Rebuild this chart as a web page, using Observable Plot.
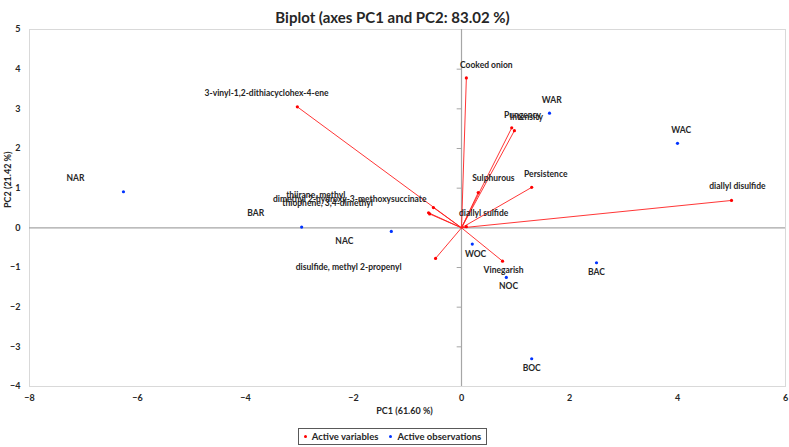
<!DOCTYPE html>
<html>
<head>
<meta charset="utf-8">
<script src="https://cdn.jsdelivr.net/npm/d3@7"></script>
<script src="https://cdn.jsdelivr.net/npm/@observablehq/plot@0.6"></script>
<style>
  html, body { margin: 0; padding: 0; background: #fff; }
  #wrap { position: relative; width: 789px; height: 447px; font-family: Lato, "Open Sans", sans-serif; }
  #legend { position: absolute; left: 298px; top: 428px; width: 187px; height: 15px; border: 1.3px solid #595959;
    font-size: 9.5px; font-weight: bold; color: #262626; display: flex; align-items: center; justify-content: center; gap: 11px; box-sizing: content-box; white-space: nowrap; }
  #legend span.d { display: inline-block; width: 3px; height: 3px; border-radius: 50%; margin-right: 5px; vertical-align: middle; position: relative; top: -1px; }
</style>
</head>
<body>
<div id="wrap">
  <div id="chart"></div>
  <div id="legend"><span><span class="d" style="background:#ff0000"></span>Active variables</span><span><span class="d" style="background:#0033ff"></span>Active observations</span></div>
</div>
<script>
const titleText = "Biplot (axes PC1 and PC2: 83.02 %)";
const xLabel = "PC1 (61.60 %)";
const yLabel = "PC2 (21.42 %)";
const xTicks = [-8, -6, -4, -2, 0, 2, 4, 6];
const yTicks = [-4, -3, -2, -1, 0, 1, 2, 3, 4, 5];

const obsNames = ["NAR", "BAR", "NAC", "WOC", "NOC", "BAC", "BOC", "WAR", "WAC"];
const obsPC1 = [-6.26, -2.96, -1.30, 0.20, 0.83, 2.50, 1.30, 1.63, 4.00];
const obsPC2 = [0.91, 0.02, -0.09, -0.41, -1.25, -0.88, -3.30, 2.89, 2.13];
const obsLabelPC1 = [-7.15, -3.81, -2.17, 0.26, 0.87, 2.50, 1.30, 1.67, 4.07];
const obsLabelPC2 = [1.24, 0.36, -0.33, -0.66, -1.47, -1.12, -3.53, 3.22, 2.46];

const varNames = ["Cooked onion", "3-vinyl-1,2-dithiacyclohex-4-ene", "Pungency", "Intensity", "Sulphurous",
  "Persistence", "diallyl disulfide", "diallyl sulfide", "Vinegarish", "disulfide, methyl 2-propenyl",
  "thiirane, methyl", "dimethyl 2-hydroxy-3-methoxysuccinate", "thiophene, 3,4-dimethyl"];
const varPC1 = [0.09, -3.04, 0.93, 0.98, 0.31, 1.30, 5.00, 0.09, 0.76, -0.48, -0.52, -0.61, -0.59];
const varPC2 = [3.78, 3.05, 2.52, 2.45, 0.89, 1.02, 0.69, 0.03, -0.84, -0.77, 0.51, 0.38, 0.35];
const varLabelPC1 = [0.46, -3.61, 1.13, 1.20, 0.59, 1.56, 5.11, 0.41, 0.78, -2.09, -2.70, -2.07, -2.48];
const varLabelPC2 = [4.11, 3.38, 2.84, 2.79, 1.24, 1.35, 1.04, 0.36, -1.07, -0.99, 0.81, 0.71, 0.63];

const obs = obsNames.map((name, i) => ({name, x: obsPC1[i], y: obsPC2[i], lx: obsLabelPC1[i], ly: obsLabelPC2[i]}));
const vars = varNames.map((name, i) => ({name, x: varPC1[i], y: varPC2[i], lx: varLabelPC1[i], ly: varLabelPC2[i]}));

const txt = "#262626";
const chart = Plot.plot({
  width: 789,
  height: 425,
  marginLeft: 29,
  marginRight: 4,
  marginTop: 29,
  marginBottom: 39,
  style: {fontFamily: "Lato, 'Open Sans', sans-serif", background: "#fff"},
  x: {domain: [-8, 6]},
  y: {domain: [-4, 5]},
  marks: [
    Plot.frame({stroke: "#d9d9d9"}),
    Plot.ruleY([0], {stroke: "#a6a6a6", strokeWidth: 1.2}),
    Plot.ruleX([0], {stroke: "#a6a6a6", strokeWidth: 1.2}),
    Plot.ruleY(yTicks.filter(d => d !== 0 && d !== 5 && d !== -4), {x1: -0.08, x2: 0, stroke: "#a6a6a6"}),
    Plot.axisX(xTicks, {anchor: "bottom", tickSize: 0, tickPadding: 8, fontSize: 9, fontWeight: "bold", fill: txt, label: null}),
    Plot.axisY(yTicks, {anchor: "left", tickSize: 0, tickPadding: 9, fontSize: 9, fontWeight: "bold", fill: txt, label: null}),
    Plot.link(vars, {x1: 0, y1: 0, x2: "x", y2: "y", stroke: "#ff2020", strokeWidth: 1, strokeOpacity: 0.9}),
    Plot.dot(vars, {x: "x", y: "y", r: 1.6, fill: "#ff0000"}),
    Plot.dot(obs, {x: "x", y: "y", r: 1.6, fill: "#0033ff"}),
    Plot.text(vars, {x: "lx", y: "ly", text: "name", fontSize: 8.5, fontWeight: "bold", fill: txt}),
    Plot.text(obs, {x: "lx", y: "ly", text: "name", fontSize: 8.5, fontWeight: "bold", fill: txt}),
    Plot.text([titleText], {frameAnchor: "top", dy: -17, dx: -15, fontSize: 15, fontWeight: "bold", fill: txt}),
    Plot.text([xLabel], {frameAnchor: "bottom", dy: 27, dx: -3, fontSize: 9, fontWeight: "bold", fill: txt}),
    Plot.text([yLabel], {frameAnchor: "left", dx: -21, rotate: -90, fontSize: 9, fontWeight: "bold", fill: txt})
  ]
});
document.getElementById("chart").appendChild(chart);
</script>
</body>
</html>
